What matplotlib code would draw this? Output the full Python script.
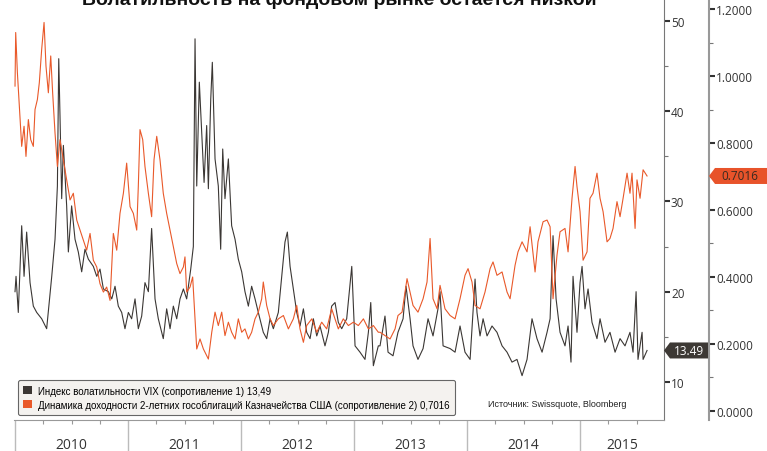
import matplotlib
matplotlib.use('Agg')
import matplotlib.pyplot as plt
from matplotlib.patches import Patch, Polygon
from matplotlib.ticker import MultipleLocator, FormatStrFormatter
from matplotlib.transforms import IdentityTransform

# VIX (time in decimal years)
vix_t = [2010.000, 2010.009, 2010.029, 2010.059, 2010.080, 2010.103, 2010.133, 2010.162, 2010.192, 2010.236,
         2010.280, 2010.325, 2010.354, 2010.375, 2010.387, 2010.398, 2010.413, 2010.428, 2010.457, 2010.472,
         2010.501, 2010.531, 2010.560, 2010.590, 2010.619, 2010.649, 2010.693, 2010.723, 2010.752, 2010.782,
         2010.826, 2010.856, 2010.885, 2010.914, 2010.944, 2010.973, 2011.003, 2011.032, 2011.062, 2011.091,
         2011.121, 2011.150, 2011.180, 2011.209, 2011.239, 2011.268, 2011.312, 2011.342, 2011.372, 2011.401,
         2011.431, 2011.460, 2011.490, 2011.519, 2011.555, 2011.578, 2011.593, 2011.608, 2011.631, 2011.652,
         2011.673, 2011.696, 2011.711, 2011.732, 2011.746, 2011.770, 2011.799, 2011.820, 2011.838, 2011.858,
         2011.888, 2011.917, 2011.947, 2011.976, 2012.006, 2012.035, 2012.065, 2012.094, 2012.124, 2012.153,
         2012.197, 2012.227, 2012.257, 2012.286, 2012.330, 2012.369, 2012.389, 2012.410, 2012.434, 2012.463,
         2012.493, 2012.522, 2012.552, 2012.581, 2012.611, 2012.640, 2012.670, 2012.699, 2012.743, 2012.773,
         2012.802, 2012.832, 2012.861, 2012.891, 2012.935, 2012.980, 2013.009, 2013.053, 2013.097, 2013.127,
         2013.148, 2013.171, 2013.215, 2013.230, 2013.274, 2013.301, 2013.345, 2013.389, 2013.434, 2013.460,
         2013.496, 2013.522, 2013.566, 2013.611, 2013.655, 2013.699, 2013.743, 2013.761, 2013.788, 2013.850,
         2013.894, 2013.938, 2013.982, 2014.027, 2014.071, 2014.088, 2014.115, 2014.142, 2014.177, 2014.221,
         2014.265, 2014.310, 2014.354, 2014.398, 2014.442, 2014.487, 2014.531, 2014.575, 2014.619, 2014.664,
         2014.708, 2014.735, 2014.761, 2014.788, 2014.823, 2014.867, 2014.894, 2014.920, 2014.938, 2014.973,
         2015.000, 2015.018, 2015.044, 2015.071, 2015.106, 2015.150, 2015.177, 2015.221, 2015.265, 2015.310,
         2015.354, 2015.398, 2015.442, 2015.469, 2015.496, 2015.513, 2015.549, 2015.558, 2015.593]
vix = [20.0, 21.7, 17.7, 27.3, 21.7, 26.6, 21.0, 18.4, 17.7, 17.0,
       15.9, 21.7, 25.8, 31.7, 45.8, 39.5, 30.3, 36.2, 29.5, 24.4,
       29.5, 25.8, 24.4, 22.2, 24.7, 23.6, 22.8, 21.7, 22.5, 20.3,
       20.0, 19.2, 20.6, 18.4, 17.7, 15.9, 17.7, 17.0, 19.2, 15.9,
       17.3, 21.0, 20.0, 27.0, 19.2, 17.0, 14.8, 18.1, 15.9, 18.4,
       17.0, 19.2, 20.3, 19.2, 22.5, 25.0, 48.0, 31.7, 43.2, 37.7,
       32.1, 38.4, 31.4, 41.3, 45.4, 34.7, 31.7, 24.7, 35.8, 30.3,
       34.7, 27.3, 25.8, 23.6, 22.2, 20.0, 18.4, 20.6, 19.2, 17.7,
       15.5, 14.8, 17.0, 15.9, 17.7, 22.8, 25.5, 26.6, 22.8, 20.3,
       17.7, 16.2, 18.1, 15.5, 14.8, 17.0, 15.1, 16.2, 14.0, 15.5,
       18.4, 18.8, 16.6, 15.9, 17.0, 22.8, 14.0, 13.3, 12.5, 15.5,
       18.8, 11.8, 14.0, 14.0, 17.3, 13.3, 12.9, 15.5, 17.0, 20.6,
       17.0, 14.0, 12.5, 13.7, 17.0, 15.1, 18.1, 20.0, 14.0, 13.7,
       13.3, 16.2, 13.3, 12.5, 21.4, 17.7, 15.1, 17.0, 15.1, 16.2,
       15.5, 14.0, 13.3, 12.2, 12.5, 10.7, 12.5, 17.0, 14.8, 13.3,
       15.5, 17.0, 26.2, 19.2, 15.5, 14.0, 16.2, 12.2, 21.7, 15.5,
       21.0, 22.8, 18.1, 20.3, 16.6, 14.8, 17.0, 14.4, 15.5, 13.3,
       14.8, 14.0, 15.5, 13.3, 20.0, 12.5, 15.5, 12.5, 13.49]

# 2-year US Treasury yield
ust_t = [2010.000, 2010.006, 2010.021, 2010.044, 2010.059, 2010.080, 2010.097, 2010.118, 2010.139, 2010.162,
         2010.177, 2010.198, 2010.215, 2010.236, 2010.257, 2010.274, 2010.295, 2010.316, 2010.333, 2010.354,
         2010.375, 2010.398, 2010.428, 2010.457, 2010.487, 2010.516, 2010.546, 2010.575, 2010.605, 2010.634,
         2010.664, 2010.693, 2010.723, 2010.752, 2010.782, 2010.811, 2010.841, 2010.870, 2010.900, 2010.929,
         2010.959, 2010.988, 2011.018, 2011.047, 2011.077, 2011.091, 2011.106, 2011.130, 2011.150, 2011.180,
         2011.209, 2011.230, 2011.254, 2011.283, 2011.312, 2011.342, 2011.372, 2011.401, 2011.431, 2011.460,
         2011.490, 2011.504, 2011.519, 2011.549, 2011.572, 2011.608, 2011.637, 2011.667, 2011.711, 2011.741,
         2011.770, 2011.799, 2011.829, 2011.858, 2011.888, 2011.917, 2011.947, 2011.976, 2012.006, 2012.035,
         2012.065, 2012.094, 2012.124, 2012.153, 2012.183, 2012.197, 2012.227, 2012.257, 2012.286, 2012.330,
         2012.375, 2012.419, 2012.463, 2012.493, 2012.522, 2012.552, 2012.581, 2012.626, 2012.670, 2012.714,
         2012.758, 2012.802, 2012.832, 2012.861, 2012.905, 2012.950, 2012.994, 2013.038, 2013.083, 2013.127,
         2013.171, 2013.215, 2013.230, 2013.274, 2013.319, 2013.363, 2013.389, 2013.425, 2013.469, 2013.496,
         2013.522, 2013.566, 2013.611, 2013.646, 2013.673, 2013.699, 2013.735, 2013.761, 2013.805, 2013.850,
         2013.894, 2013.938, 2013.982, 2014.009, 2014.044, 2014.071, 2014.115, 2014.159, 2014.204, 2014.230,
         2014.265, 2014.310, 2014.354, 2014.381, 2014.425, 2014.451, 2014.487, 2014.531, 2014.558, 2014.602,
         2014.628, 2014.673, 2014.708, 2014.735, 2014.761, 2014.796, 2014.823, 2014.867, 2014.894, 2014.929,
         2014.956, 2014.973, 2015.000, 2015.027, 2015.062, 2015.088, 2015.115, 2015.150, 2015.177, 2015.204,
         2015.239, 2015.265, 2015.292, 2015.327, 2015.354, 2015.381, 2015.416, 2015.442, 2015.460, 2015.487,
         2015.504, 2015.531, 2015.558, 2015.593]
ust = [0.97, 1.13, 1.01, 0.88, 0.79, 0.85, 0.76, 0.87, 0.81, 0.79,
       0.90, 0.93, 0.98, 1.08, 1.16, 1.03, 0.95, 1.06, 0.95, 0.83,
       0.73, 0.81, 0.75, 0.69, 0.63, 0.65, 0.57, 0.54, 0.51, 0.48,
       0.53, 0.45, 0.43, 0.38, 0.355, 0.37, 0.33, 0.53, 0.48, 0.59,
       0.65, 0.74, 0.61, 0.59, 0.54, 0.67, 0.84, 0.81, 0.73, 0.65,
       0.58, 0.75, 0.82, 0.75, 0.65, 0.59, 0.54, 0.49, 0.44, 0.41,
       0.43, 0.46, 0.355, 0.37, 0.40, 0.185, 0.215, 0.185, 0.155, 0.235,
       0.295, 0.255, 0.295, 0.225, 0.265, 0.235, 0.215, 0.275, 0.235, 0.245,
       0.215, 0.235, 0.275, 0.295, 0.335, 0.385, 0.315, 0.275, 0.255, 0.275,
       0.285, 0.245, 0.275, 0.315, 0.245, 0.205, 0.255, 0.275, 0.235, 0.265,
       0.245, 0.305, 0.275, 0.245, 0.275, 0.255, 0.265, 0.255, 0.275, 0.245,
       0.255, 0.235, 0.235, 0.225, 0.215, 0.245, 0.285, 0.295, 0.395, 0.355,
       0.315, 0.295, 0.335, 0.385, 0.515, 0.335, 0.305, 0.375, 0.305, 0.285,
       0.275, 0.335, 0.405, 0.425, 0.385, 0.315, 0.305, 0.355, 0.425, 0.445,
       0.405, 0.415, 0.355, 0.335, 0.435, 0.475, 0.505, 0.475, 0.55, 0.415,
       0.505, 0.565, 0.57, 0.55, 0.335, 0.465, 0.535, 0.545, 0.475, 0.635,
       0.73, 0.67, 0.595, 0.45, 0.475, 0.635, 0.65, 0.71, 0.635, 0.595,
       0.505, 0.515, 0.545, 0.625, 0.58, 0.635, 0.71, 0.65, 0.71, 0.545,
       0.69, 0.635, 0.72, 0.7016]

years = [2010, 2011, 2012, 2013, 2014, 2015]
title = 'Волатильность на фондовом рынке остается низкой'
labels = ['Индекс волатильности VIX (сопротивление 1) 13,49',
          'Динамика доходности 2-летних гособлигаций Казначейства США (сопротивление 2) 0,7016']
source = 'Источник: Swissquote, Bloomberg'

dark = '#3b3734'
orange = '#e9592a'

W, H = 767, 452
fig = plt.figure(figsize=(W / 100, H / 100), dpi=100)
ax = fig.add_axes([14 / W, 1 - 421 / H, 650 / W, 421 / H])
ax2 = ax.twinx()

ax.plot(vix_t, vix, color=dark, lw=0.8)
ax2.plot(ust_t, ust, color=orange, lw=0.8)

xmin, xmax = 2009.991, 2015.743
ax.set_xlim(xmin, xmax)
ax.set_ylim(5.79, 52.41)
ax2.set_ylim(-0.027, 1.23)

for s in ['top', 'left']:
    ax.spines[s].set_visible(False)
for s in ['top', 'left', 'bottom']:
    ax2.spines[s].set_visible(False)
ax.spines['right'].set_color('#777')
ax.spines['bottom'].set_color('#999')
ax2.spines['right'].set_position(('outward', 45 * 0.72))
ax2.spines['right'].set_color('#999')
ax2.spines['right'].set_linewidth(1.5)

ax.yaxis.tick_right()
ax.yaxis.set_major_locator(MultipleLocator(10))
ax.yaxis.set_minor_locator(MultipleLocator(5))
ax2.yaxis.set_major_locator(MultipleLocator(0.2))
ax2.yaxis.set_minor_locator(MultipleLocator(0.1))
ax2.yaxis.set_major_formatter(FormatStrFormatter('%.4f'))

for a in (ax, ax2):
    a.tick_params(axis='y', which='major', direction='out', length=4, width=1.5,
                  color='#333', labelsize=8.5, labelcolor='#333', pad=1)
    a.tick_params(axis='y', which='minor', direction='out', length=3, width=0.8, color='#777')
    for t in a.get_yticklabels():
        t.set_family('Open Sans')

# year bands below the plot
ax.set_xticks(years)
ax.set_xticklabels([])
ax.set_xticks([y + q / 4 for y in years for q in (1, 2, 3) if y + q / 4 < xmax], minor=True)
ax.tick_params(axis='x', which='major', length=23, width=1, color='#bbb')
ax.tick_params(axis='x', which='minor', length=3, width=0.8, color='#999')
for y in years:
    lo, hi = max(y, xmin), min(y + 1, xmax)
    ax.text((lo + hi) / 2, -0.059, str(y), transform=ax.get_xaxis_transform(),
            ha='center', va='center', fontsize=10, color='#333', family='Open Sans')

fig.text(0.443, 1 - 5 / H, title, ha='center', va='baseline', fontsize=14,
         fontweight='bold', family='Liberation Sans', color='#111')

handles = [Patch(facecolor=dark, edgecolor='none'), Patch(facecolor=orange, edgecolor='none')]
leg = ax.legend(handles, labels, loc='lower left', bbox_to_anchor=(18 / W, 1 - 416 / H),
                bbox_transform=fig.transFigure, borderaxespad=0, fontsize=7,
                prop={'family': 'Liberation Sans', 'size': 7},
                handlelength=0.9, handleheight=0.9, handletextpad=0.6, labelspacing=0.35,
                borderpad=0.55, fancybox=True, framealpha=1, facecolor='#f4f2ef', edgecolor='#666')
leg.get_frame().set_linewidth(0.8)
leg.set_zorder(10)

fig.text(557 / W, 1 - 405 / H, source, ha='center', va='center', fontsize=6.5,
         family='Liberation Sans', color='#222')

# value tags on the axes
x1 = ax.transAxes.transform((1, 0))[0]
x2 = x1 + 45
yv = ax.transData.transform((0, vix[-1]))[1]
yu = ax2.transData.transform((0, ust[-1]))[1]
fig.patches.append(Polygon([(x1, yv), (x1 + 6, yv + 8), (x1 + 44, yv + 8), (x1 + 44, yv - 8), (x1 + 6, yv - 8)],
                           closed=True, facecolor='#3d3935', edgecolor='none', transform=IdentityTransform()))
fig.text(x1 + 25, yv, '13.49', transform=IdentityTransform(), ha='center', va='center',
         fontsize=8.5, color='white', family='Open Sans')
fig.patches.append(Polygon([(x2, yu), (x2 + 6, yu + 8), (x2 + 70, yu + 8), (x2 + 70, yu - 8), (x2 + 6, yu - 8)],
                           closed=True, facecolor='#e8532a', edgecolor='none', transform=IdentityTransform()))
fig.text(x2 + 31, yu, '0.7016', transform=IdentityTransform(), ha='center', va='center',
         fontsize=8.5, color='#3a2a20', family='Open Sans')

fig.savefig('out.png', dpi=100)
